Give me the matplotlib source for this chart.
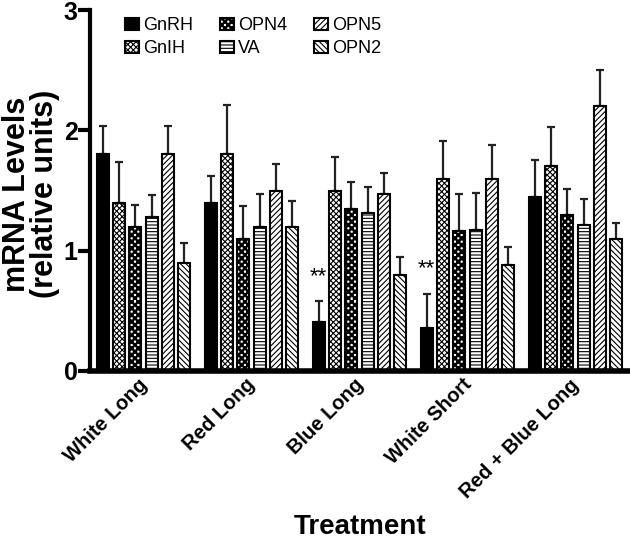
import warnings
import numpy as np
import matplotlib
matplotlib.use("Agg")
import matplotlib.pyplot as plt
import matplotlib.hatch as mhatch
import matplotlib.transforms as mtransforms
from matplotlib.path import Path

warnings.filterwarnings("ignore")

# ---------------- Data ----------------
treatments = ["White Long", "Red Long", "Blue Long", "White Short", "Red + Blue Long"]
genes = ["GnRH", "GnIH", "OPN4", "VA", "OPN5", "OPN2"]

gnrh = [1.80, 1.40, 0.41, 0.36, 1.45]
gnih = [1.40, 1.80, 1.50, 1.60, 1.70]
opn4 = [1.20, 1.10, 1.35, 1.16, 1.30]
va = [1.28, 1.20, 1.31, 1.17, 1.21]
opn5 = [1.80, 1.50, 1.47, 1.60, 2.20]
opn2 = [0.90, 1.20, 0.80, 0.88, 1.10]

gnrh_err = [0.24, 0.22, 0.17, 0.28, 0.30]
gnih_err = [0.34, 0.41, 0.28, 0.31, 0.33]
opn4_err = [0.18, 0.27, 0.22, 0.31, 0.21]
va_err = [0.18, 0.27, 0.22, 0.31, 0.22]
opn5_err = [0.24, 0.22, 0.18, 0.28, 0.30]
opn2_err = [0.16, 0.21, 0.15, 0.15, 0.13]

signif = ["", "", "**", "**", ""]   # marks over GnRH bars


# ---------------- Custom checkerboard hatch ----------------
class CheckerHatch(mhatch.HatchPatternBase):
    """filled checkerboard, one 'c' = 6 cells per inch"""
    def __init__(self, hatch, density):
        self.n = hatch.count('c') * density
        self.num_vertices = (self.n * self.n // 2) * 5 if self.n else 0

    def set_vertices_and_codes(self, vertices, codes):
        step = 1.0 / self.n
        k = 0
        for i in range(self.n):
            for j in range(self.n):
                if (i + j) % 2 == 0:
                    x0, y0 = i * step, j * step
                    vertices[k:k + 5] = [[x0, y0], [x0 + step, y0], [x0 + step, y0 + step],
                                         [x0, y0 + step], [x0, y0]]
                    codes[k:k + 5] = [Path.MOVETO, Path.LINETO, Path.LINETO,
                                      Path.LINETO, Path.CLOSEPOLY]
                    k += 5


mhatch._hatch_types.append(CheckerHatch)

# ---------------- Plot ----------------
plt.rcParams['font.family'] = ['Liberation Sans', 'DejaVu Sans']
plt.rcParams['hatch.linewidth'] = 0.8

series = [gnrh, gnih, opn4, va, opn5, opn2]
errors = [gnrh_err, gnih_err, opn4_err, va_err, opn5_err, opn2_err]
faces = ['black', 'white', 'white', 'white', 'white', 'white']
hatches = [None, 'xxxxxx', 'ccccc', '-----', '//////', '\\\\\\\\\\\\']

fig = plt.figure(figsize=(6.3, 5.39), dpi=100)
ax = fig.add_axes([0.143, 0.312, 0.854, 0.669])

x = np.arange(len(treatments))
pitch = 0.151
width = 0.111

for i, (vals, errs) in enumerate(zip(series, errors)):
    pos = x + (i - 2.5) * pitch
    ax.bar(pos, vals, width, color=faces[i], edgecolor='black', linewidth=1.5,
           hatch=hatches[i], label=genes[i], zorder=2)
    ax.errorbar(pos, vals, yerr=[np.zeros(len(errs)), errs], fmt='none',
                ecolor='#222222', elinewidth=1.6, capsize=3, capthick=1.6, zorder=1)

for xi, (s, v, e) in enumerate(zip(signif, gnrh, gnrh_err)):
    if s:
        ax.text(xi - 2.5 * pitch, v + e + 0.12, s, ha='center', va='bottom', fontsize=16)

ax.set_xlim(-0.495, 4.487)
ax.set_ylim(0, 3)
ax.set_yticks([0, 1, 2, 3])
ax.set_yticklabels(['0', '1', '2', '3'], fontsize=18, fontweight='bold')
ax.set_xticks(x)
ax.set_xticklabels(treatments, rotation=45, ha='right', va='center',
                   rotation_mode='anchor', fontsize=14.5, fontweight='bold')
ax.tick_params(axis='x', length=0, pad=8)
ax.tick_params(axis='y', length=9, width=3, pad=0)
shift = mtransforms.ScaledTranslation(1 / 100, 0, fig.dpi_scale_trans)
for lab in ax.get_xticklabels():
    lab.set_transform(lab.get_transform() + shift)

for side in ['top', 'right']:
    ax.spines[side].set_visible(False)
ax.spines['left'].set_linewidth(3)
ax.spines['bottom'].set_linewidth(4)

ax.set_ylabel('mRNA Levels\n(relative units)', fontsize=22, fontweight='bold',
              linespacing=0.9)
ax.yaxis.set_label_coords(-0.056, 0.49)
ax.set_xlabel('Treatment', fontsize=20, fontweight='bold')
ax.xaxis.set_label_coords(0.502, -0.398)

handles, labels = ax.get_legend_handles_labels()
ax.legend(handles, labels, ncol=3, frameon=False, fontsize=13,
          loc='upper left', bbox_to_anchor=(0.065, 0.981), borderpad=0,
          borderaxespad=0, handlelength=0.75, handleheight=0.65,
          columnspacing=1.5, labelspacing=0.33, handletextpad=0.25)

fig.savefig('out.png', dpi=100)
